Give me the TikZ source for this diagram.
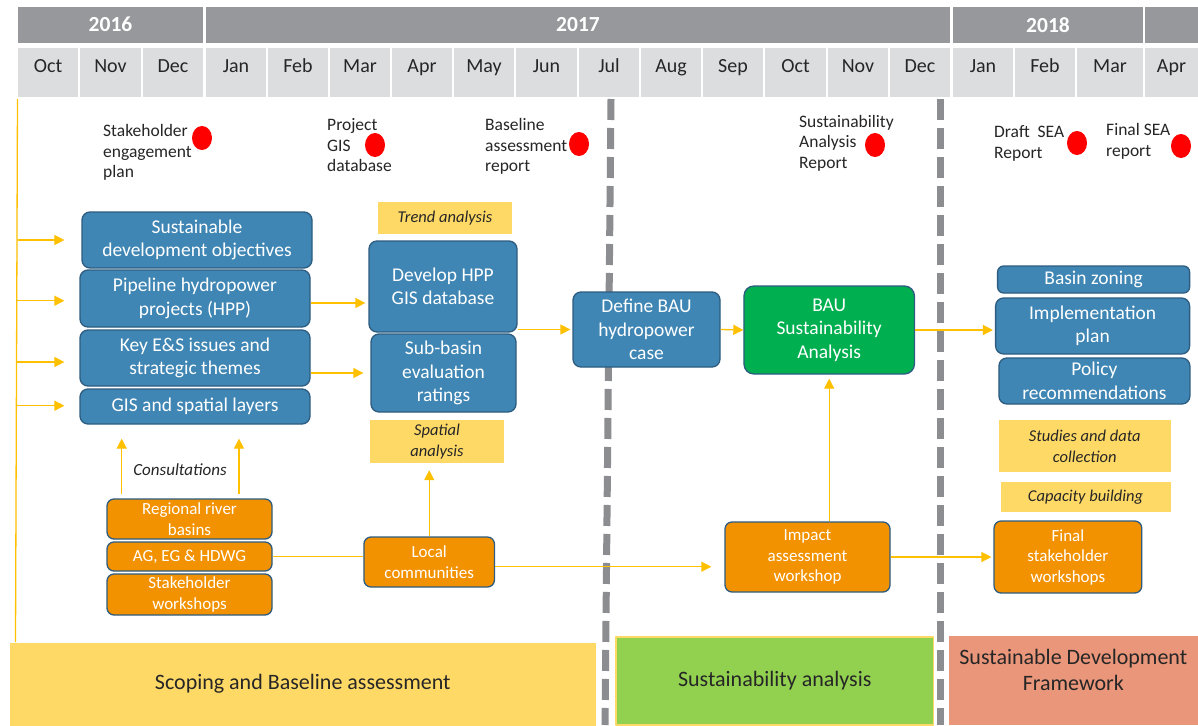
\documentclass[tikz,border=0pt]{standalone}
\usepackage{fontspec}
\setmainfont{Carlito}
\usepackage{tikz}
\usetikzlibrary{arrows.meta,shapes.geometric}

\definecolor{yeargrey}{RGB}{151,152,155}
\definecolor{monthgrey}{RGB}{220,221,223}
\definecolor{hppblue}{RGB}{63,134,180}
\definecolor{hppedge}{RGB}{45,92,128}
\definecolor{consorange}{RGB}{243,146,0}
\definecolor{baugreen}{RGB}{0,176,80}
\definecolor{flowgold}{RGB}{255,192,0}
\definecolor{notebuff}{RGB}{255,217,102}
\definecolor{phasegreen}{RGB}{146,208,80}
\definecolor{phasesalmon}{RGB}{234,150,122}
\definecolor{dashgrey}{RGB}{140,141,144}
\definecolor{inktext}{RGB}{38,38,38}

\begin{document}
\begin{tikzpicture}[x=1pt,y=-1pt,line join=round]
  \tikzstyle{year}=[fill=yeargrey,text=white,font=\bfseries\fontsize{21.5}{24}\selectfont,
                    minimum height=36pt,inner sep=0pt]
  \tikzstyle{month}=[fill=monthgrey,text=inktext,font=\fontsize{20}{24}\selectfont,
                     minimum height=49pt,inner sep=0pt,text height=8pt,text depth=8pt]
  \tikzstyle{milestone}=[anchor=west,align=left,inner sep=0pt,text=inktext,
                         font=\fontsize{17.5}{20.5}\selectfont]
  \tikzstyle{dot}=[ellipse,fill=red,minimum width=20pt,minimum height=24pt,inner sep=0pt]
  \tikzstyle{task}=[draw=hppedge,fill=hppblue,line width=1.3pt,rounded corners=8pt,
                    text=white,align=center,inner sep=0pt,font=\fontsize{19.5}{23.5}\selectfont]
  \tikzstyle{meeting}=[task,fill=consorange,rounded corners=7pt,font=\fontsize{17}{20.5}\selectfont]
  \tikzstyle{note}=[fill=notebuff,align=center,inner sep=0pt,text=inktext,
                    font=\itshape\fontsize{16.5}{21}\selectfont]
  \tikzstyle{phase}=[inner sep=0pt,align=center,text=inktext,font=\fontsize{22}{26}\selectfont]
  \tikzstyle{flow}=[draw=flowgold,line width=1.3pt]
  \tikzstyle{arrowed}=[-{Triangle[length=10pt,width=10pt,color=flowgold]}]
  \tikzstyle{divider}=[draw=dashgrey,line width=7pt,dash pattern=on 21pt off 8pt]

  \fill[white] (0,0) rectangle (1198,725);
  \useasboundingbox (0,0) rectangle (1198,725);

  % timeline header
  \node[year,minimum width=185pt] (y2016) at (110.5,24.7) {2016};
  \node[year,minimum width=744pt] (y2017) at (578,24.7)   {2017};
  \node[year,minimum width=190pt] (y2018) at (1048,24.7)  {2018};
  \node[year,minimum width=53pt]  (y2019) at (1171.5,24.7) {};
  \foreach \mon/\xa/\xb [count=\i] in {Oct/18/78,Nov/80/141,Dec/143/203,Jan/206/266,
      Feb/268/328,Mar/330/390,Apr/392/452,May/454/514,Jun/516/577,Jul/579/639,
      Aug/641/701,Sep/703/763,Oct/765/826,Nov/828/888,Dec/890/950,Jan/953/1013,
      Feb/1015/1075,Mar/1077/1143,Apr/1145/1198}
    \node[month,minimum width={(\xb-\xa)*1pt}] (m\i) at ({(\xa+\xb)/2},72.7) {\mon};

  % phase dividers
  \draw[divider] (611,99) -- (605,725);
  \draw[divider] (940.6,99) -- (940.6,725);

  % milestones
  \node[milestone] (ms1) at (103,152.5) {Stakeholder\\engagement\\plan};
  \node[dot]       (dot1) at (202,138) {};
  \node[milestone] (ms2) at (327,145.5) {Project\\GIS\\database};
  \node[dot]       (dot2) at (375,145) {};
  \node[milestone] (ms3) at (485,146.5) {Baseline\\assessment\\report};
  \node[dot]       (dot3) at (579,144) {};
  \node[milestone] (ms4) at (799,143) {Sustainability\\Analysis\\Report};
  \node[dot]       (dot4) at (875,145) {};
  \node[milestone] (ms5) at (994,143.5) {Draft~ SEA\\Report};
  \node[dot]       (dot5) at (1077,143) {};
  \node[milestone] (ms6) at (1106,141.5) {Final SEA\\report};
  \node[dot]       (dot6) at (1181,146) {};

  % scoping inputs
  \node[task,minimum width=230pt,minimum height=56pt] (sdo)  at (197,240)   {Sustainable\\development objectives};
  \node[task,minimum width=230pt,minimum height=57pt] (pipe) at (195,298.5) {Pipeline hydropower\\projects (HPP)};
  \node[task,minimum width=230pt,minimum height=56pt] (key)  at (195,358)   {Key E\&S issues and\\strategic themes};
  \node[task,minimum width=230pt,minimum height=35pt] (gis)  at (195,406.5) {GIS and spatial layers};

  \node[note,minimum width=134pt,minimum height=32pt] (trend) at (445,218) {Trend analysis};
  \node[task,minimum width=148pt,minimum height=91pt] (hpp) at (443,286.5) {Develop HPP\\GIS database};
  \node[task,minimum width=145pt,minimum height=78pt] (sub) at (443.5,373) {Sub-basin\\evaluation\\ratings};
  \node[note,minimum width=134pt,minimum height=43pt] (spatial) at (437,441.5) {Spatial\\analysis};

  \node[task,minimum width=147pt,minimum height=75pt] (bau) at (646.5,329.5) {Define BAU\\hydropower\\case};
  \node[task,fill=baugreen,rounded corners=10pt,minimum width=170.5pt,minimum height=88pt] (green) at (829.2,330) {BAU\\Sustainability\\Analysis};

  % framework outputs
  \node[task,rounded corners=6pt,minimum width=192pt,minimum height=27pt] (zoning) at (1093.6,279.5) {Basin zoning};
  \node[task,minimum width=194pt,minimum height=56pt] (impl)   at (1092.6,326) {Implementation\\plan};
  \node[task,minimum width=191pt,minimum height=46pt] (policy) at (1094.4,381) {Policy\\recommendations};
  \node[note,minimum width=171.5pt,minimum height=52pt] (studies)  at (1084.8,446) {Studies and data\\collection};
  \node[note,minimum width=170pt,minimum height=30pt]   (capacity) at (1085.5,497) {Capacity building};

  % consultations
  \node[font=\itshape\fontsize{17}{20}\selectfont,text=inktext,inner sep=0pt] (consult) at (180,470) {Consultations};
  \node[meeting,minimum width=165pt,minimum height=40pt] (river) at (189.5,519)   {Regional river\\basins};
  \node[meeting,minimum width=165pt,minimum height=29pt] (ag)    at (189.5,556.5) {AG, EG \& HDWG};
  \node[meeting,minimum width=165pt,minimum height=41pt] (shw)   at (189.5,594.5) {Stakeholder\\workshops};
  \node[meeting,minimum width=130.5pt,minimum height=50pt] (local)  at (429.2,562) {Local\\communities};
  \node[meeting,minimum width=165pt,minimum height=70pt]   (impact) at (807.5,557) {Impact\\assessment\\workshop};
  \node[meeting,minimum width=147.7pt,minimum height=72pt] (final)  at (1067.9,557) {Final\\stakeholder\\workshops};

  % phases
  \node[phase,fill=notebuff,minimum width=586.4pt,minimum height=83pt] (scoping) at (302.8,684) {Scoping and Baseline assessment};
  \node[phase,fill=phasegreen,draw=notebuff,line width=1.5pt,minimum width=317.6pt,minimum height=88pt] (sanalysis) at (774.8,681) {Sustainability analysis};
  \node[phase,fill=phasesalmon,minimum width=249.5pt,minimum height=89pt] (sdf) at (1073.3,680.5) {};
  \node[phase] (sdftext) at (1073.3,669.5) {Sustainable Development\\Framework};

  % connectors
  \coordinate (top) at (17.5,99);
  \coordinate (bot) at (15.5,642);
  \coordinate (in1) at (17.5,240);
  \coordinate (in2) at (17.1,300.7);
  \coordinate (in3) at (16.8,362);
  \coordinate (in4) at (16.6,405.7);
  \coordinate (p1) at ([yshift=-4.5pt]pipe.east);
  \coordinate (p2) at ([yshift=-4.7pt]local.east);
  \coordinate (c1) at ([xshift=-67.8pt]river.north);
  \coordinate (c2) at ([xshift=49.5pt]river.north);

  \path[flow] (top) edge (bot)
        (in1) edge[arrowed,shorten >=17pt] (in1 -| sdo.west)
        (in2) edge[arrowed,shorten >=15pt] (in2 -| pipe.west)
        (in3) edge[arrowed,shorten >=15pt] (in3 -| key.west)
        (in4) edge[arrowed,shorten >=15pt] (in4 -| gis.west)
        (p1) edge[arrowed,shorten >=3pt] (p1 -| hpp.west)
        (sub.west -| key.east) edge[arrowed,shorten >=7pt] (sub.west)
        (bau.west -| hpp.east) edge[arrowed,shorten >=2pt] (bau.west)
        (bau.east) edge[arrowed] (green.west)
        (green.east) edge[arrowed,shorten >=2pt] (green.east -| impl.west)
        (c1) edge[arrowed,shorten <=4pt,shorten >=14pt] (c1 |- gis.south)
        (c2) edge[arrowed,shorten <=4pt,shorten >=14pt] (c2 |- gis.south)
        (ag.east) edge (ag.east -| local.west)
        (local.north) edge[arrowed,shorten >=7pt] (local.north |- spatial.south)
        (p2) edge[arrowed,shorten >=13pt] (p2 -| impact.west)
        (green.south |- impact.north) edge[arrowed,shorten >=4pt] (green.south)
        (impact.east) edge[arrowed,shorten >=2pt] (final.west);
\end{tikzpicture}
\end{document}
